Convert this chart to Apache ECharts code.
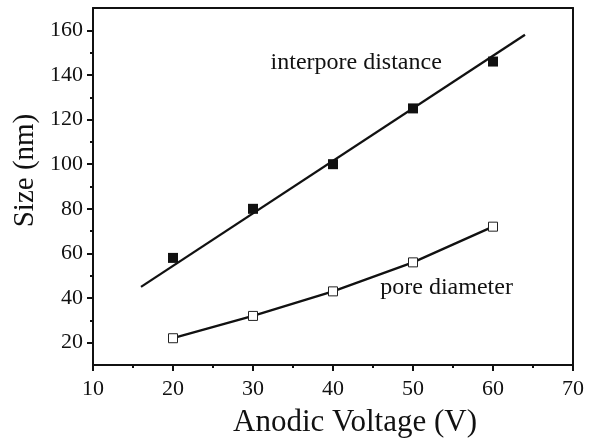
<!DOCTYPE html>
<html>
<head>
<meta charset="utf-8">
<script src="https://cdn.jsdelivr.net/npm/echarts@6/dist/echarts.min.js"></script>
<style>
  html, body { margin: 0; padding: 0; background: #fff; }
  #main { width: 594px; height: 443px; }
</style>
</head>
<body>
<div id="main"></div>
<script>
// anodic voltage (V)
var voltage = [20, 30, 40, 50, 60];
// interpore distance (nm), filled squares
var interpore = [58, 80, 100, 125, 146];
// pore diameter (nm), open squares
var poreDiameter = [22, 32, 43, 56, 72];
// straight fit line drawn through interpore distance
var fitLine = [[16, 45], [64, 158]];
// y tick labels
var yMajor = [20, 40, 60, 80, 100, 120, 140, 160];
var yMinor = [20, 30, 40, 50, 60, 70, 80, 90, 100, 110, 120, 130, 140, 150, 160];

var font = 'Liberation Serif';
var black = '#111';

var chart = echarts.init(document.getElementById('main'));

function pairs(xs, ys) {
  var out = [];
  for (var i = 0; i < xs.length; i++) out.push([xs[i], ys[i]]);
  return out;
}

var option = {
  animation: false,
  backgroundColor: '#fff',
  grid: { left: 93, right: 21, top: 8, bottom: 78 },
  xAxis: [{
    type: 'value', min: 10, max: 70, interval: 10,
    name: 'Anodic Voltage (V)', nameLocation: 'middle', nameGap: 42,
    nameTextStyle: { fontFamily: font, fontSize: 31, color: black, padding: [0, 0, 0, 44] },
    axisLine: { lineStyle: { color: black, width: 2 } },
    axisTick: { length: 6, lineStyle: { color: black, width: 2 } },
    minorTick: { show: true, splitNumber: 2, length: 3, lineStyle: { color: black, width: 2 } },
    axisLabel: { fontFamily: font, fontSize: 22, color: black, margin: 13 },
    splitLine: { show: false }
  }, {
    type: 'value', min: 10, max: 70, position: 'top',
    axisLine: { lineStyle: { color: black, width: 2 } },
    axisTick: { show: false }, axisLabel: { show: false }, splitLine: { show: false }
  }],
  yAxis: [{
    type: 'value', min: 10, max: 170, position: 'left',
    name: 'Size (nm)', nameLocation: 'middle', nameGap: 53,
    nameTextStyle: { fontFamily: font, fontSize: 29, color: black, padding: [0, 0, 0, 32] },
    axisLine: { lineStyle: { color: black, width: 2 } },
    axisTick: { customValues: yMinor, length: 3, lineStyle: { color: black, width: 2 } },
    axisLabel: { show: false },
    splitLine: { show: false }
  }, {
    type: 'value', min: 10, max: 170, position: 'left',
    axisLine: { show: false },
    axisTick: { customValues: yMajor, length: 6, lineStyle: { color: black, width: 2 } },
    axisLabel: { customValues: yMajor, fontFamily: font, fontSize: 22, color: black, margin: 10 },
    splitLine: { show: false }
  }, {
    type: 'value', min: 10, max: 170, position: 'right',
    axisLine: { show: true, lineStyle: { color: black, width: 2 } },
    axisTick: { show: false }, axisLabel: { show: false }, splitLine: { show: false }
  }],
  series: [{
    type: 'line', data: fitLine, showSymbol: false, symbol: 'none',
    lineStyle: { color: black, width: 2.3 }, z: 2,
    markPoint: {
      symbol: 'circle', symbolSize: 0,
      label: { show: true, fontFamily: font, fontSize: 24, color: black, formatter: '{b}' },
      data: [
        { name: 'interpore distance', coord: [42.9, 145.5] },
        { name: 'pore diameter', coord: [54.2, 44.5] }
      ]
    }
  }, {
    type: 'scatter', data: pairs(voltage, interpore), symbol: 'rect', symbolSize: 10,
    itemStyle: { color: black, opacity: 1 }, z: 3
  }, {
    type: 'line', data: pairs(voltage, poreDiameter), symbol: 'rect', symbolSize: 9,
    showAllSymbol: true,
    lineStyle: { color: black, width: 2.3 },
    itemStyle: { color: '#fff', borderColor: '#222', borderWidth: 1 }, z: 3
  }]
};

chart.setOption(option);
</script>
</body>
</html>
